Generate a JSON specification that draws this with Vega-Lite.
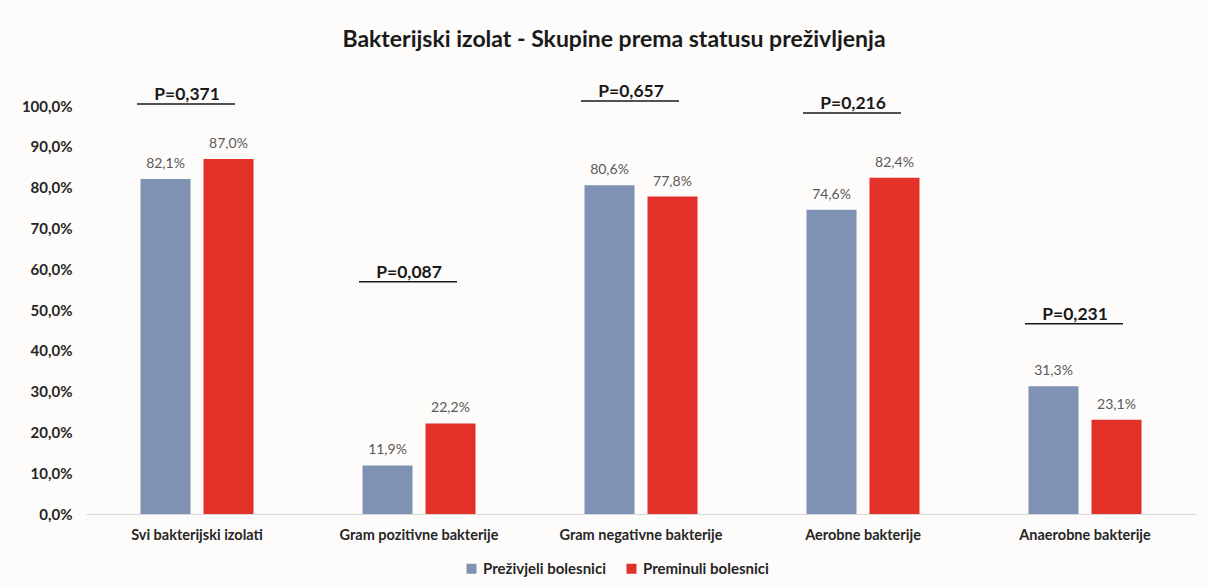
{
  "$schema": "https://vega.github.io/schema/vega-lite/v6.json",
  "width": 1110,
  "height": 408,
  "autosize": {"type": "none"},
  "padding": {"left": 86, "top": 106, "right": 12, "bottom": 73},
  "background": "#fdfcfa",
  "config": {"font": "Lato", "view": {"stroke": null}},
  "title": {
    "text": "Bakterijski izolat - Skupine prema statusu preživljenja",
    "fontSize": 23,
    "fontWeight": "bold",
    "color": "#1a1a1a",
    "anchor": "middle",
    "dx": -27,
    "offset": 31
  },
  "datasets": {
    "bars": [
      {"kategorija": "Svi bakterijski izolati", "skupina": "Preživjeli bolesnici", "postotak": 82.1},
      {"kategorija": "Svi bakterijski izolati", "skupina": "Preminuli bolesnici", "postotak": 87.0},
      {"kategorija": "Gram pozitivne bakterije", "skupina": "Preživjeli bolesnici", "postotak": 11.9},
      {"kategorija": "Gram pozitivne bakterije", "skupina": "Preminuli bolesnici", "postotak": 22.2},
      {"kategorija": "Gram negativne bakterije", "skupina": "Preživjeli bolesnici", "postotak": 80.6},
      {"kategorija": "Gram negativne bakterije", "skupina": "Preminuli bolesnici", "postotak": 77.8},
      {"kategorija": "Aerobne bakterije", "skupina": "Preživjeli bolesnici", "postotak": 74.6},
      {"kategorija": "Aerobne bakterije", "skupina": "Preminuli bolesnici", "postotak": 82.4},
      {"kategorija": "Anaerobne bakterije", "skupina": "Preživjeli bolesnici", "postotak": 31.3},
      {"kategorija": "Anaerobne bakterije", "skupina": "Preminuli bolesnici", "postotak": 23.1}
    ],
    "pvals": [
      {"kategorija": "Svi bakterijski izolati", "p": "P=0,371", "razina": 100.5},
      {"kategorija": "Gram pozitivne bakterije", "p": "P=0,087", "razina": 56.9},
      {"kategorija": "Gram negativne bakterije", "p": "P=0,657", "razina": 101.2},
      {"kategorija": "Aerobne bakterije", "p": "P=0,216", "razina": 98.3},
      {"kategorija": "Anaerobne bakterije", "p": "P=0,231", "razina": 46.6}
    ]
  },
  "layer": [
    {
      "data": {"name": "bars"},
      "mark": {"type": "bar"},
      "encoding": {
        "x": {
          "field": "kategorija",
          "type": "nominal",
          "sort": ["Svi bakterijski izolati", "Gram pozitivne bakterije", "Gram negativne bakterije", "Aerobne bakterije", "Anaerobne bakterije"],
          "scale": {"paddingInner": 0, "paddingOuter": 0},
          "axis": {
            "title": null,
            "labelAngle": 0,
            "labelFontSize": 14.5,
            "labelFontWeight": "bold",
            "labelColor": "#262626",
            "ticks": false,
            "domainColor": "#d9d9d9",
            "labelPadding": 14
          }
        },
        "xOffset": {
          "field": "skupina",
          "type": "nominal",
          "sort": ["Preživjeli bolesnici", "Preminuli bolesnici"],
          "scale": {"paddingInner": 0.206, "paddingOuter": 0.865}
        },
        "y": {
          "field": "postotak",
          "type": "quantitative",
          "scale": {"domain": [0, 100], "nice": false},
          "axis": {
            "title": null,
            "values": [0, 10, 20, 30, 40, 50, 60, 70, 80, 90, 100],
            "labelExpr": "replace(format(datum.value, '.1f'), '.', ',') + '%'",
            "grid": false,
            "domain": false,
            "ticks": false,
            "labelFontSize": 15,
            "labelFontWeight": "bold",
            "labelColor": "#262626",
            "labelPadding": 14
          }
        },
        "color": {
          "field": "skupina",
          "type": "nominal",
          "scale": {"domain": ["Preživjeli bolesnici", "Preminuli bolesnici"], "range": ["#7f92b4", "#e3312a"]},
          "legend": {
            "title": null,
            "orient": "none",
            "direction": "horizontal",
            "legendX": 378,
            "legendY": 455,
            "symbolType": "square",
            "symbolSize": 100,
            "symbolStrokeWidth": 0,
            "labelFontSize": 15,
            "labelFontWeight": "bold",
            "labelColor": "#262626",
            "columnPadding": 18
          }
        }
      }
    },
    {
      "data": {"name": "bars"},
      "mark": {
        "type": "text",
        "baseline": "bottom",
        "dy": -8,
        "fontSize": 14,
        "color": "#595959",
        "text": {"expr": "replace(format(datum.postotak, '.1f'), '.', ',') + '%'"}
      },
      "encoding": {
        "x": {"field": "kategorija", "type": "nominal", "sort": ["Svi bakterijski izolati", "Gram pozitivne bakterije", "Gram negativne bakterije", "Aerobne bakterije", "Anaerobne bakterije"]},
        "xOffset": {"field": "skupina", "type": "nominal", "sort": ["Preživjeli bolesnici", "Preminuli bolesnici"]},
        "y": {"field": "postotak", "type": "quantitative"}
      }
    },
    {
      "data": {"name": "pvals"},
      "mark": {"type": "rule", "color": "#1a1a1a", "strokeWidth": 1.5, "xOffset": -60, "x2Offset": 38},
      "encoding": {
        "x": {"field": "kategorija", "type": "nominal", "sort": ["Svi bakterijski izolati", "Gram pozitivne bakterije", "Gram negativne bakterije", "Aerobne bakterije", "Anaerobne bakterije"]},
        "x2": {"field": "kategorija"},
        "y": {"field": "razina", "type": "quantitative"}
      }
    },
    {
      "data": {"name": "pvals"},
      "mark": {"type": "text", "baseline": "alphabetic", "dy": -4, "dx": -10, "fontSize": 17.5, "fontWeight": "bold", "color": "#1a1a1a"},
      "encoding": {
        "x": {"field": "kategorija", "type": "nominal", "sort": ["Svi bakterijski izolati", "Gram pozitivne bakterije", "Gram negativne bakterije", "Aerobne bakterije", "Anaerobne bakterije"]},
        "y": {"field": "razina", "type": "quantitative"},
        "text": {"field": "p"}
      }
    }
  ]
}
